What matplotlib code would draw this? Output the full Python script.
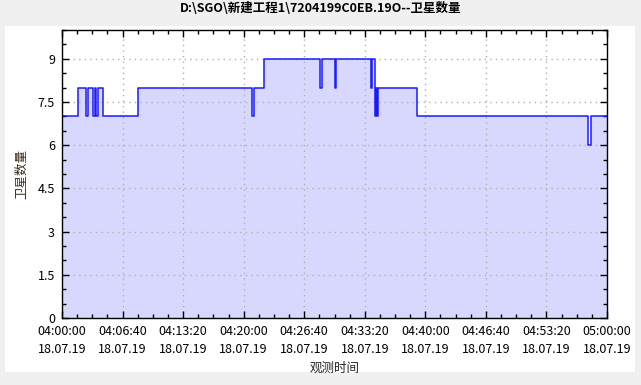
import datetime as dt

import matplotlib

matplotlib.use("Agg")
import matplotlib.pyplot as plt
import numpy as np
from matplotlib.patches import Rectangle
from matplotlib.ticker import FuncFormatter, MultipleLocator

plt.rcParams["font.family"] = ["Noto Sans CJK SC", "DejaVu Sans"]

# satellite count changes: seconds after 04:00:00 and the new count
change_seconds = [0, 108, 158, 172, 207, 218, 225, 238, 269, 500,
                  1257, 1266, 1334, 1704, 1720, 1801, 1810, 2039, 2050,
                  2066, 2074, 2080, 2088, 2347, 3476, 3492, 3600]
satellites = [7, 8, 7, 8, 7, 8, 7, 8, 7, 8,
              7, 8, 9, 8, 9, 8, 9, 8, 9,
              7, 8, 7, 8, 7, 6, 7, 7]

start = dt.datetime(2019, 7, 18, 4, 0, 0)
title = "D:\\SGO\\新建工程1\\7204199C0EB.19O--卫星数量"
x_label = "观测时间"
y_label = "卫星数量"

fig = plt.figure(figsize=(6.41, 3.85), dpi=100, facecolor="#f0f0f0")
fig.patches.append(
    Rectangle((5 / 641, 13 / 385), 630 / 641, 346 / 385,
              transform=fig.transFigure, facecolor="white",
              edgecolor="none", zorder=-10)
)
ax = fig.add_axes([62 / 641, 67 / 385, 545 / 641, 288 / 385])
ax.set_facecolor("white")

x = np.array(change_seconds)
y = np.array(satellites)
ax.fill_between(x, y, step="post", color="#d8d8ff", linewidth=0)
ax.step(x, y, where="post", color="#1a1aff", linewidth=1.1)

ax.set_xlim(0, 3600)
ax.set_ylim(0, 10)
ax.xaxis.set_major_locator(MultipleLocator(400))
ax.xaxis.set_minor_locator(MultipleLocator(100))
ax.yaxis.set_major_locator(MultipleLocator(1.5))
ax.yaxis.set_minor_locator(MultipleLocator(0.5))


def time_label(value, _):
    moment = start + dt.timedelta(seconds=value)
    return moment.strftime("%H:%M:%S\n%d.%m.%y")


ax.xaxis.set_major_formatter(FuncFormatter(time_label))
ax.yaxis.set_major_formatter(FuncFormatter(lambda v, _: f"{v:g}"))

ax.tick_params(which="both", direction="in", top=True, right=True,
               labelsize=9, colors="black")
ax.tick_params(which="major", length=5, width=1)
ax.tick_params(which="minor", length=3, width=1)
ax.tick_params(axis="x", pad=5)
ax.tick_params(axis="y", pad=5)
for label in ax.get_xticklabels():
    label.set_linespacing(1.5)

ax.grid(which="major", linestyle=(0, (1, 3)), color="#b0b0b0", linewidth=1)
for spine in ax.spines.values():
    spine.set_linewidth(1)

fig.text(0.5, 1 - 8 / 385, title, ha="center", va="center",
         fontsize=9, fontweight="bold")
ax.set_xlabel(x_label, fontsize=9, labelpad=4, color="#222222")
ax.set_ylabel(y_label, fontsize=9, labelpad=7, color="#3a2a1a")

fig.savefig("out.png", dpi=100, facecolor=fig.get_facecolor())
